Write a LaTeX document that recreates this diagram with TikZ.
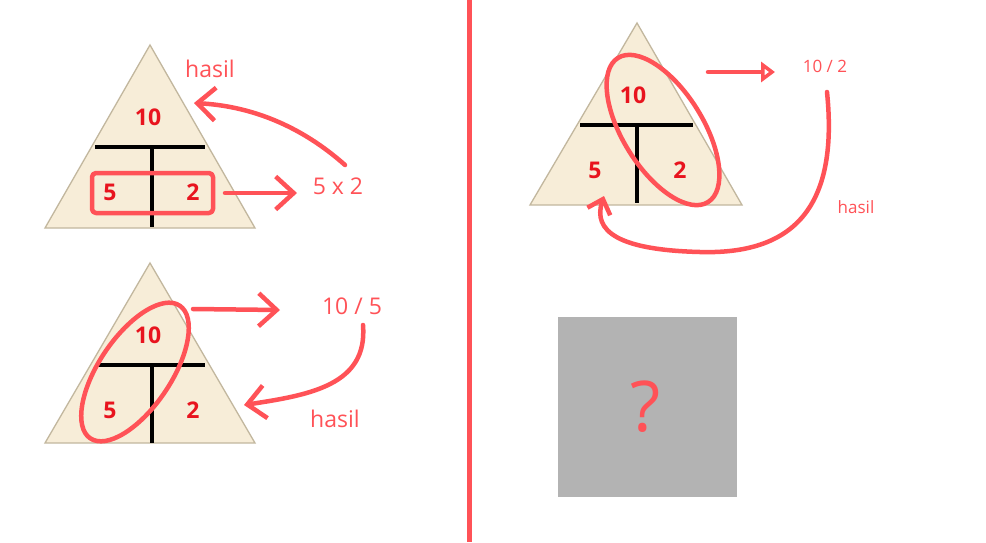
\documentclass[tikz,border=0pt]{standalone}
\usepackage{fontspec}
\setmainfont{Open Sans}
\usetikzlibrary{arrows.meta}
\definecolor{annot}{HTML}{FF5257}
\definecolor{numred}{HTML}{E8141E}
\definecolor{tribg}{HTML}{F7EDD8}
\definecolor{triedge}{HTML}{C2B79E}
\definecolor{qgray}{HTML}{B3B3B3}
\begin{document}
\begin{tikzpicture}[x=1pt,y=-1pt,
  tri/.style={fill=tribg, draw=triedge, line width=1.3pt},
  tbar/.style={line width=4pt, draw=black},
  num/.style={text=numred, font=\fontsize{23}{25}\selectfont\bfseries, inner sep=0pt},
  lbl/.style={text=annot, font=\fontsize{23}{26}\selectfont, inner sep=0pt},
  slbl/.style={text=annot, font=\fontsize{17}{20}\selectfont, inner sep=0pt},
  pen/.style={draw=annot, line width=4.5pt, line cap=round, line join=round},
  barb/.style={-{Straight Barb[length=18pt,width=33pt]}},
  sbarb/.style={-{Straight Barb[length=13pt,width=24pt]}}
]
\useasboundingbox (0,0) rectangle (986,542);
\fill[white] (0,0) rectangle (986,542);

% ---------- triangle 1 (top left)
\draw[tri] (150,45) -- (255,228) -- (45,228) -- cycle;
\draw[tbar] (95,147) -- (205,147);
\draw[tbar] (152,147) -- (152,227);
\node[num] (t1a) at (148,117) {10};
\node[num] (t1b) at (110,192) {5};
\node[num] (t1c) at (193,192) {2};
\draw[pen, rounded corners=4pt] (92,173) rectangle (213,213);
\node[lbl] (h1) at (210,69) {hasil};
\node[lbl] (m1) at (338,186) {5 x 2};
\coordinate (a1s) at (225,193);
\coordinate (a1e) at (297,193);
\draw[pen, barb] (a1s) -- (a1e);
\coordinate (c1s) at (345,165);
\coordinate (c1e) at (194,103);
\draw[pen, barb] (c1s) .. controls (300,125) and (250,106) .. (c1e);

% ---------- triangle 2 (bottom left)
\draw[tri] (150,263) -- (255,443) -- (45,443) -- cycle;
\draw[tbar] (98,365) -- (205,365);
\draw[tbar] (152,365) -- (152,443);
\node[num] (t2a) at (148,335) {10};
\node[num] (t2b) at (110,410) {5};
\node[num] (t2c) at (193,410) {2};
\draw[pen, rotate around={56:(135,372)}] (135,372) ellipse [x radius=80, y radius=36];
\node[lbl] (d2) at (352,306) {10 / 5};
\node[lbl] (h2) at (335,419) {hasil};
\coordinate (a2s) at (193,309);
\coordinate (a2e) at (280,310);
\draw[pen, barb] (a2s) -- (a2e);
\coordinate (c2s) at (363,325);
\coordinate (c2e) at (244,405);
\draw[pen, barb] (c2s) .. controls (368,385) and (310,395) .. (c2e);

% ---------- divider
\draw[draw=annot, line width=5pt] (469,0) -- (469,542);

% ---------- triangle 3 (right)
\draw[tri] (637,23) -- (742,205) -- (530,205) -- cycle;
\draw[tbar] (580,125) -- (693,125);
\draw[tbar] (637,125) -- (637,203);
\node[num] (t3a) at (633,95) {10};
\node[num] (t3b) at (595,170) {5};
\node[num] (t3c) at (680,170) {2};
\draw[pen, rotate around={-58:(663,130)}] (663,130) ellipse [x radius=85, y radius=40];
\node[slbl] (d3) at (825,66) {10 / 2};
\node[slbl] (h3) at (856,207) {hasil};
\coordinate (a3s) at (708,72);
\coordinate (a3e) at (775,72);
\draw[pen, -{Triangle[open,length=14pt,width=20pt]}] (a3s) -- (a3e);
\coordinate (c3s) at (827,92);
\coordinate (c3m) at (700,252);
\coordinate (c3e) at (604,196);
\draw[pen, sbarb] (c3s) .. controls (838,200) and (800,255) .. (c3m)
  .. controls (620,250) and (592,232) .. (c3e);

% ---------- question box
\node[fill=qgray, minimum width=179pt, minimum height=180pt, inner sep=0pt] (q) at (647.5,407) {};
\node[text=annot, font=\fontsize{70}{74}\selectfont, inner sep=0pt] (qm) at (646,407) {?};
\end{tikzpicture}
\end{document}
